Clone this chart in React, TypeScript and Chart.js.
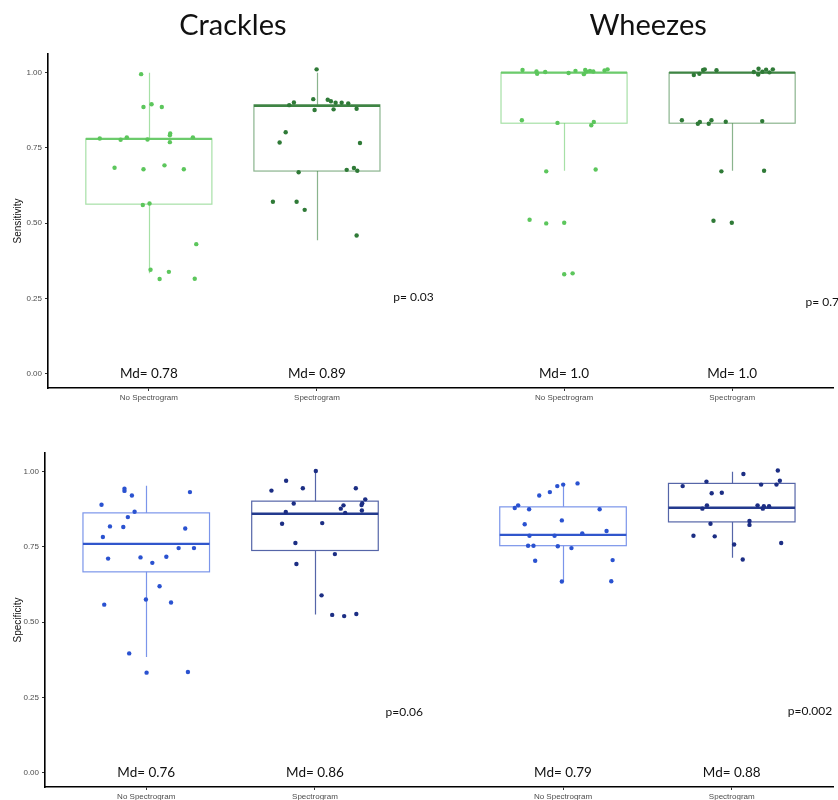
import { useEffect, useRef } from "react";
import { Chart, registerables } from "chart.js";

Chart.register(...registerables);

// ---- categories & layout in data units ----
const GROUP_LABELS = ["No Spectrogram", "Spectrogram"];
const PANEL_TITLES = ["Crackles", "Wheezes"];
// x positions of the four boxes: Crackles (No / With), Wheezes (No / With)
const GROUP_X = [1, 2, 3.47, 4.47];
const BOX_WIDTH = 0.75;
const Y_TICKS = [0, 0.25, 0.5, 0.75, 1];

// ---- box statistics: [lower whisker, Q1, median, Q3, upper whisker] ----
const SENS_STATS = [
  [0.333, 0.563, 0.78, 0.78, 1.0],
  [0.443, 0.673, 0.89, 0.893, 1.0],
  [0.674, 0.832, 1.0, 1.0, 1.0],
  [0.674, 0.832, 1.0, 1.0, 1.0],
];
const SPEC_STATS = [
  [0.384, 0.667, 0.76, 0.863, 0.953],
  [0.525, 0.738, 0.86, 0.902, 1.0],
  [0.635, 0.754, 0.79, 0.883, 0.959],
  [0.714, 0.833, 0.88, 0.961, 1.0],
];

// ---- individual observations (value) and horizontal jitter (x units) ----
const SENS_CRACKLES_NO = [0.995, 0.886, 0.895, 0.886, 0.798, 0.792, 0.769, 0.781, 0.777, 0.785, 0.778, 0.785, 0.684, 0.679, 0.692, 0.679, 0.56, 0.565, 0.43, 0.345, 0.338, 0.314, 0.315];
const SENS_CRACKLES_NO_JIT = [-0.046, -0.032, 0.016, 0.077, 0.127, 0.125, 0.125, -0.292, -0.168, -0.131, -0.008, 0.262, -0.204, -0.032, 0.093, 0.208, -0.036, 0.004, 0.282, 0.01, 0.119, 0.064, 0.273];
const SENS_CRACKLES_SP = [1.011, 0.901, 0.892, 0.912, 0.91, 0.905, 0.9, 0.9, 0.898, 0.876, 0.878, 0.88, 0.802, 0.768, 0.766, 0.669, 0.677, 0.683, 0.674, 0.571, 0.571, 0.544, 0.459];
const SENS_CRACKLES_SP_JIT = [-0.002, -0.137, -0.165, -0.022, 0.064, 0.083, 0.111, 0.147, 0.186, -0.014, 0.099, 0.236, -0.186, -0.222, 0.256, -0.109, 0.177, 0.22, 0.24, -0.262, -0.121, -0.073, 0.236];
const SENS_WHEEZES_NO = [1.009, 1.004, 0.996, 1.002, 0.999, 1.006, 0.995, 1.009, 1.004, 1.006, 1.004, 1.007, 1.011, 0.842, 0.833, 0.836, 0.825, 0.672, 0.678, 0.511, 0.499, 0.501, 0.33, 0.333];
const SENS_WHEEZES_NO_JIT = [-0.247, -0.164, -0.16, -0.112, 0.027, 0.068, 0.118, 0.126, 0.132, 0.154, 0.174, 0.241, 0.259, -0.251, -0.039, 0.177, 0.162, -0.106, 0.188, -0.205, -0.106, 0.001, 0.001, 0.051];
const SENS_WHEEZES_SP = [0.992, 0.996, 1.009, 1.011, 1.008, 1.002, 0.994, 1.013, 1.003, 1.01, 1.001, 1.011, 0.842, 0.83, 0.836, 0.83, 0.842, 0.837, 0.839, 0.672, 0.674, 0.508, 0.501];
const SENS_WHEEZES_SP_JIT = [-0.228, -0.195, -0.173, -0.163, -0.093, 0.129, 0.155, 0.157, 0.18, 0.202, 0.222, 0.242, -0.299, -0.204, -0.192, -0.139, -0.123, -0.038, 0.179, -0.064, 0.19, -0.111, -0.002];

const SPEC_CRACKLES_NO = [0.943, 0.936, 0.921, 0.932, 0.89, 0.867, 0.849, 0.818, 0.816, 0.811, 0.783, 0.746, 0.746, 0.717, 0.715, 0.711, 0.697, 0.619, 0.575, 0.565, 0.558, 0.396, 0.332, 0.334];
const SPEC_CRACKLES_NO_JIT = [-0.129, -0.129, -0.085, 0.259, -0.265, -0.069, -0.109, -0.215, -0.136, 0.231, -0.257, 0.192, 0.283, 0.119, -0.034, -0.226, 0.036, 0.079, -0.002, 0.147, -0.249, -0.101, 0.002, 0.247];
const SPEC_CRACKLES_SP = [1.002, 0.97, 0.937, 0.945, 0.945, 0.894, 0.908, 0.895, 0.889, 0.888, 0.877, 0.866, 0.863, 0.871, 0.827, 0.829, 0.763, 0.726, 0.693, 0.589, 0.524, 0.52, 0.527];
const SPEC_CRACKLES_SP_JIT = [0.005, -0.171, -0.258, -0.072, 0.242, -0.126, 0.298, 0.28, 0.276, 0.169, 0.153, -0.173, 0.179, 0.278, -0.195, 0.043, -0.116, 0.118, -0.11, 0.039, 0.102, 0.173, 0.245];
const SPEC_WHEEZES_NO = [0.961, 0.957, 0.952, 0.932, 0.921, 0.888, 0.879, 0.875, 0.875, 0.825, 0.838, 0.803, 0.795, 0.787, 0.787, 0.754, 0.754, 0.752, 0.746, 0.704, 0.706, 0.635, 0.636];
const SPEC_WHEEZES_NO_JIT = [0.086, 0.001, -0.034, -0.078, -0.141, -0.266, -0.286, -0.201, 0.217, -0.227, -0.007, 0.258, 0.114, -0.199, -0.05, -0.207, -0.175, -0.031, 0.05, -0.165, 0.294, -0.007, 0.286];
const SPEC_WHEEZES_SP = [1.004, 0.992, 0.97, 0.967, 0.952, 0.957, 0.957, 0.928, 0.93, 0.888, 0.877, 0.888, 0.877, 0.885, 0.885, 0.827, 0.836, 0.823, 0.787, 0.785, 0.758, 0.763, 0.708];
const SPEC_WHEEZES_SP_JIT = [0.273, 0.069, 0.285, -0.15, -0.291, 0.174, 0.265, -0.119, -0.059, -0.147, -0.174, 0.153, 0.184, 0.19, 0.221, -0.126, 0.105, 0.105, -0.227, -0.101, 0.014, 0.293, 0.065];

// ---- test results, placed at (x, y) in data units ----
const SENS_P_LABELS = ["p= 0.03", "p= 0.7"];
const SENS_P_X = [2.454, 4.906];
const SENS_P_Y = [0.253, 0.238];
const SPEC_P_LABELS = ["p=0.06", "p=0.002"];
const SPEC_P_X = [2.418, 4.802];
const SPEC_P_Y = [0.2, 0.203];

// ---- palettes ----
const GREEN_POINTS = ["#5cc65c", "#2f7a37", "#5cc65c", "#2f7a37"];
const GREEN_BOX = ["rgba(92,198,92,0.55)", "rgba(60,130,65,0.6)", "rgba(92,198,92,0.55)", "rgba(60,130,65,0.6)"];
const GREEN_MEDIAN = ["#6ccb6c", "#3f8444", "#6ccb6c", "#3f8444"];
const BLUE_POINTS = ["#2a52d0", "#1c2e84", "#2a52d0", "#1c2e84"];
const BLUE_BOX = ["#7b95ea", "#5565a8", "#7b95ea", "#5565a8"];
const BLUE_MEDIAN = ["#3056cc", "#233a8e", "#3056cc", "#233a8e"];

type Row = {
  yTitle: string;
  stats: number[][];
  values: number[][];
  jitter: number[][];
  pointColors: string[];
  boxColors: string[];
  medianColors: string[];
  pLabels: string[];
  pX: number[];
  pY: number[];
  yMin: number;
  yMax: number;
  axisWidth: number;
  xAxisHeight: number;
  padTop: number;
  height: number;
  top: number;
  titles: boolean;
};

const ROWS: Row[] = [
  {
    yTitle: "Sensitivity",
    stats: SENS_STATS,
    values: [SENS_CRACKLES_NO, SENS_CRACKLES_SP, SENS_WHEEZES_NO, SENS_WHEEZES_SP],
    jitter: [SENS_CRACKLES_NO_JIT, SENS_CRACKLES_SP_JIT, SENS_WHEEZES_NO_JIT, SENS_WHEEZES_SP_JIT],
    pointColors: GREEN_POINTS,
    boxColors: GREEN_BOX,
    medianColors: GREEN_MEDIAN,
    pLabels: SENS_P_LABELS,
    pX: SENS_P_X,
    pY: SENS_P_Y,
    yMin: -0.048,
    yMax: 1.062,
    axisWidth: 48,
    xAxisHeight: 22,
    padTop: 54,
    height: 410,
    top: 0,
    titles: true,
  },
  {
    yTitle: "Specificity",
    stats: SPEC_STATS,
    values: [SPEC_CRACKLES_NO, SPEC_CRACKLES_SP, SPEC_WHEEZES_NO, SPEC_WHEEZES_SP],
    jitter: [SPEC_CRACKLES_NO_JIT, SPEC_CRACKLES_SP_JIT, SPEC_WHEEZES_NO_JIT, SPEC_WHEEZES_SP_JIT],
    pointColors: BLUE_POINTS,
    boxColors: BLUE_BOX,
    medianColors: BLUE_MEDIAN,
    pLabels: SPEC_P_LABELS,
    pX: SPEC_P_X,
    pY: SPEC_P_Y,
    yMin: -0.048,
    yMax: 1.062,
    axisWidth: 45,
    xAxisHeight: 13,
    padTop: 43,
    height: 390,
    top: 410,
    titles: false,
  },
];

const fmtMedian = (m: number) => (m === 1 ? "1.0" : m.toFixed(2));

function boxPlugin(row: Row) {
  return {
    id: "boxes",
    beforeDatasetsDraw(chart: any) {
      const { ctx, scales } = chart;
      const x = scales.x;
      const y = scales.y;
      ctx.save();
      row.stats.forEach((s, g) => {
        const [lo, q1, md, q3, hi] = s;
        const cx = Math.round(x.getPixelForValue(GROUP_X[g])) + 0.5;
        const l = x.getPixelForValue(GROUP_X[g] - BOX_WIDTH / 2);
        const r = x.getPixelForValue(GROUP_X[g] + BOX_WIDTH / 2);
        ctx.strokeStyle = row.boxColors[g];
        ctx.lineWidth = 1.2;
        ctx.beginPath();
        ctx.moveTo(cx, y.getPixelForValue(hi));
        ctx.lineTo(cx, y.getPixelForValue(q3));
        ctx.moveTo(cx, y.getPixelForValue(q1));
        ctx.lineTo(cx, y.getPixelForValue(lo));
        ctx.stroke();
        const yt = y.getPixelForValue(q3);
        const yb = y.getPixelForValue(q1);
        ctx.strokeRect(l, yt, r - l, yb - yt);
        ctx.strokeStyle = row.medianColors[g];
        ctx.lineWidth = 2.4;
        ctx.beginPath();
        const ym = y.getPixelForValue(md);
        ctx.moveTo(l, ym);
        ctx.lineTo(r, ym);
        ctx.stroke();
      });
      ctx.restore();
    },
    afterDraw(chart: any) {
      const { ctx, scales } = chart;
      const x = scales.x;
      const y = scales.y;
      ctx.save();
      ctx.fillStyle = "#111";
      ctx.textBaseline = "middle";
      ctx.textAlign = "center";
      ctx.font = "13.5px Lato, 'Open Sans', sans-serif";
      row.stats.forEach((s, g) => {
        ctx.fillText("Md= " + fmtMedian(s[2]), x.getPixelForValue(GROUP_X[g]), y.getPixelForValue(0));
      });
      ctx.textAlign = "left";
      ctx.font = "12px Lato, 'Open Sans', sans-serif";
      row.pLabels.forEach((t, i) => {
        ctx.fillText(t, x.getPixelForValue(row.pX[i]), y.getPixelForValue(row.pY[i]));
      });
      if (row.titles) {
        ctx.textAlign = "center";
        ctx.textBaseline = "alphabetic";
        ctx.font = "29px Lato, 'Open Sans', sans-serif";
        PANEL_TITLES.forEach((t, i) => {
          const mid = (GROUP_X[i * 2] + GROUP_X[i * 2 + 1]) / 2;
          ctx.fillText(t, x.getPixelForValue(mid), 35);
        });
      }
      ctx.restore();
    },
  };
}

function RowChart({ row }: { row: Row }) {
  const ref = useRef<HTMLCanvasElement | null>(null);
  useEffect(() => {
    if (!ref.current) return;
    const datasets = row.values.map((vals, g) => ({
      type: "scatter" as const,
      data: vals.map((v, i) => ({ x: GROUP_X[g] + row.jitter[g][i], y: v })),
      pointRadius: 2.2,
      pointBorderWidth: 0,
      backgroundColor: row.pointColors[g],
      borderColor: row.pointColors[g],
    }));
    const chart = new Chart(ref.current, {
      type: "scatter",
      data: { datasets },
      options: {
        animation: false,
        responsive: false,
        devicePixelRatio: 1,
        layout: { padding: { top: row.padTop, right: 5, bottom: 0, left: 0 } },
        plugins: { legend: { display: false }, tooltip: { enabled: false } },
        scales: {
          x: {
            type: "linear",
            min: 0.4,
            max: 5.07,
            afterFit: (s: any) => {
              s.height = row.xAxisHeight;
            },
            afterBuildTicks: (s: any) => {
              s.ticks = GROUP_X.map((v) => ({ value: v }));
            },
            ticks: {
              autoSkip: false,
              maxRotation: 0,
              padding: 2,
              color: "#4d4d4d",
              font: { family: "'Liberation Sans', Arial, sans-serif", size: 8 },
              callback: (_v: any, i: number) => GROUP_LABELS[i % 2],
            },
            grid: { display: true, drawOnChartArea: false, drawTicks: true, tickLength: 3, color: "#333" },
            border: { display: true, color: "#000", width: 1.6 },
          },
          y: {
            type: "linear",
            min: row.yMin,
            max: row.yMax,
            afterFit: (s: any) => {
              s.width = row.axisWidth;
            },
            afterBuildTicks: (s: any) => {
              s.ticks = Y_TICKS.map((v) => ({ value: v }));
            },
            ticks: {
              padding: 3,
              color: "#4d4d4d",
              font: { family: "'Liberation Sans', Arial, sans-serif", size: 8 },
              callback: (v: any) => Number(v).toFixed(2),
            },
            title: {
              display: true,
              text: row.yTitle,
              color: "#111",
              padding: { top: 12, bottom: 0 },
              font: { family: "'Liberation Sans', Arial, sans-serif", size: 10 },
            },
            grid: { display: true, drawOnChartArea: false, drawTicks: true, tickLength: 3, color: "#333" },
            border: { display: true, color: "#000", width: 1.6 },
          },
        },
      },
      plugins: [boxPlugin(row)],
    });
    return () => chart.destroy();
  }, [row]);
  return (
    <canvas
      ref={ref}
      width={838}
      height={row.height}
      style={{ position: "absolute", left: 0, top: row.top, width: 838, height: row.height, display: "block" }}
    />
  );
}

export default function App() {
  return (
    <div style={{ position: "absolute", left: 0, top: 0, width: 838, height: 800, overflow: "hidden", background: "#fff" }}>
      {ROWS.map((row, i) => (
        <RowChart key={i} row={row} />
      ))}
    </div>
  );
}
